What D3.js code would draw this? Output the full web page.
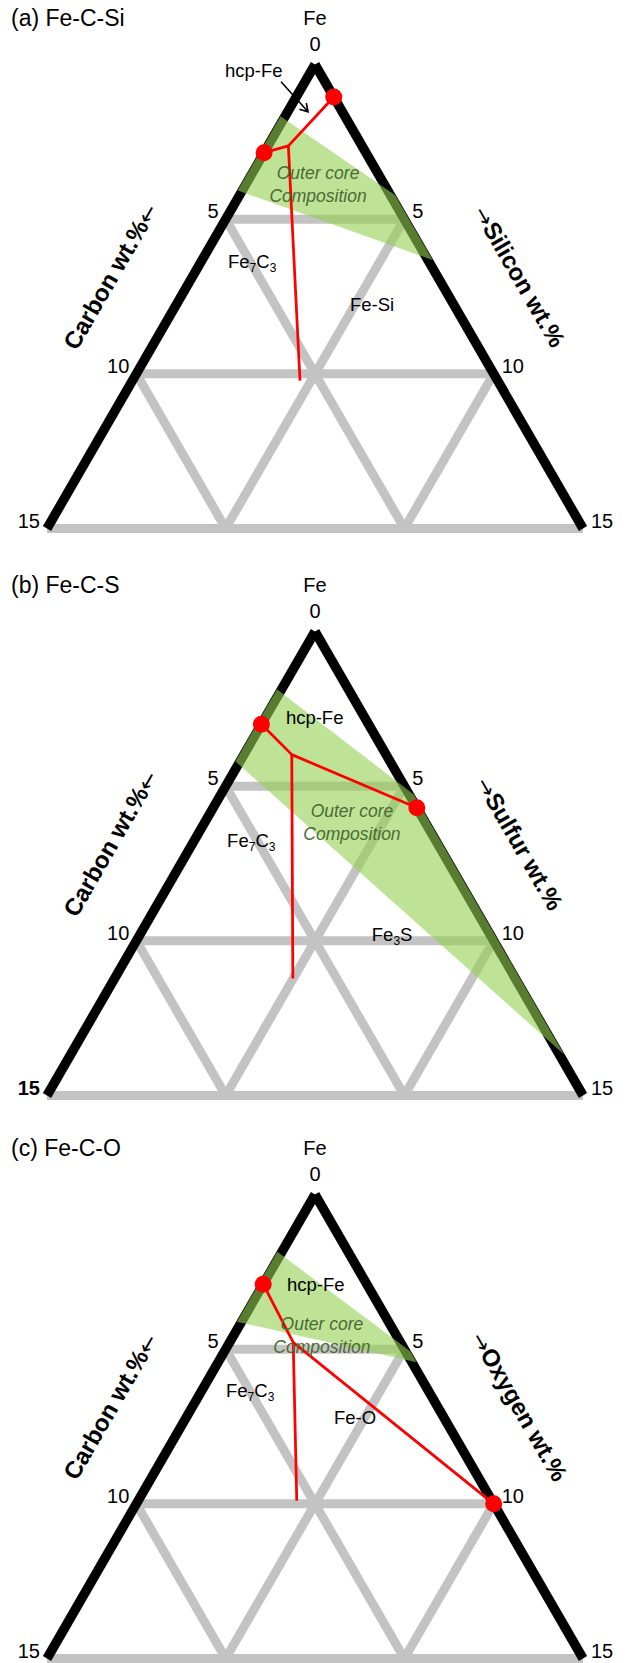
<!DOCTYPE html>
<html>
<head>
<meta charset="utf-8">
<style>
    body { margin: 0; background: #fff; }
    .chart text { font-family: "Liberation Sans", Arial, sans-serif; fill: #000; }
    .grid { stroke: #c3c3c3; stroke-width: 9; fill: none; }
    .edge { stroke: #000; stroke-width: 9.5; fill: none; }
    .core { fill: #92d050; fill-opacity: 0.6; }
    .liq { stroke: #ff0000; stroke-width: 2.75; fill: none; stroke-linejoin: round; }
    .dot { fill: #ff0000; }
    .chart text.core-label { font-style: italic; fill: #4b6b35; font-size: 17.5px; }
    .phase { font-size: 18.5px; }
    .tick { font-size: 20px; }
    .title { font-size: 23px; }
    .axis-title { font-size: 24px; font-weight: bold; }
    .chart tspan.arrow { font-family: "DejaVu Sans", sans-serif; font-weight: normal; font-size: 22px; }
</style>
</head>
<body>
<svg class="chart"></svg>
<script src="https://d3js.org/d3.v7.min.js"></script>
<script>
// every composition is [carbon wt.%, second element wt.%], Fe is the rest
var panelTitles = ['(a) Fe-C-Si', '(b) Fe-C-S', '(c) Fe-C-O'];
var secondElement = ['Silicon', 'Sulfur', 'Oxygen'];
var tickValues = [0, 5, 10, 15];
var gridLevels = [5, 10];

// outer core composition field
var outerCoreA = [[1.8, -0.13], [-0.13, 4.35], [-0.13, 6.45], [4.2, -0.13]];
var outerCoreB = [[2.0, -0.13], [-0.13, 5.4], [-0.13, 13.8], [4.33, -0.13]];
var outerCoreC = [[1.98, -0.13], [-0.13, 5.2], [-0.13, 5.55], [4.24, -0.13]];

// cotectic / boundary lines
var linesA = [[[2.85, 0], [2.06, 0.57], [0, 1.05]], [[2.06, 0.57], [5.53, 4.69]]];
var linesB = [[[3.0, 0], [2.64, 1.34], [0, 5.7]], [[2.64, 1.34], [6.23, 4.99]]];
var linesC = [[[2.9, 0], [3.0, 1.78], [0, 10]], [[3.0, 1.78], [5.46, 4.44]]];

// eutectic points on the binaries
var dotsA = [[2.85, 0], [0, 1.05]];
var dotsB = [[3.0, 0], [0, 5.7]];
var dotsC = [[2.9, 0], [0, 10]];

// phase field labels: text, sub-script pieces, anchor composition
var labelsA = [['Fe', '7', 'C', '3', [5.73, 0.86]], ['Fe-Si', '', '', '', [3.01, 4.97]]];
var labelsB = [['hcp-Fe', '', '', '', [2.31, 0.68]], ['Fe', '7', 'C', '3', [5.94, 1.02]], ['Fe', '3', 'S', '', [3.42, 6.6]]];
var labelsC = [['hcp-Fe', '', '', '', [2.35, 0.78]], ['Fe', '7', 'C', '3', [5.77, 0.79]], ['Fe-O', '', '', '', [3.18, 4.24]]];
var coreLabelAt = [[1.77, 1.94], [1.96, 4.03], [2.0, 2.39]];

// hcp-Fe callout in panel (a)
var hcpLabelA = [2.72, -2.32];
var hcpArrowA = [[1.23, -0.67], [0.96, 0.57]];

var panelTop = [0, 567, 1130];

var panels = panelTitles.map(function(t, i) {
    return {
        title: t, element: secondElement[i], top: panelTop[i],
        core: [outerCoreA, outerCoreB, outerCoreC][i],
        lines: [linesA, linesB, linesC][i],
        dots: [dotsA, dotsB, dotsC][i],
        labels: [labelsA, labelsB, labelsC][i],
        coreAt: coreLabelAt[i]
    };
});

var chart = d3.select('.chart')
    .attr('width', 628)
    .attr('height', 1663);

// ternary scales: x from (X - C), y from (C + X)
var xScale = d3.scaleLinear().domain([-15, 15]).range([47, 583]);
var yScale = d3.scaleLinear().domain([0, 15]).range([64.5, 528.5]);
function pt(c) { return [xScale(c[1] - c[0]), yScale(c[0] + c[1])]; }
var line = d3.line().x(function(c) { return pt(c)[0]; }).y(function(c) { return pt(c)[1]; });

var gs = chart.selectAll('g.panel').data(panels).enter()
    .append('g')
    .attr('class', 'panel')
    .attr('transform', function(d) { return 'translate(0,' + d.top + ')'; });

gs.each(function(d, i) {
    var g = d3.select(this);

    // grey grid
    var grid = [[[15, 0], [0, 15]]];
    gridLevels.forEach(function(l) {
        grid.push([[l, 0], [0, l]]);
        grid.push([[l, 0], [l, 15 - l]]);
        grid.push([[0, l], [15 - l, l]]);
    });
    g.selectAll('path.grid').data(grid).enter().append('path')
        .attr('class', 'grid').attr('d', line);

    // black edges
    g.selectAll('path.edge').data([[[0, 0], [15, 0]], [[0, 0], [0, 15]]]).enter().append('path')
        .attr('class', 'edge').attr('d', line);

    // outer core field
    g.append('path').attr('class', 'core').attr('d', line(d.core) + 'Z');

    // red lines and dots
    g.selectAll('path.liq').data(d.lines).enter().append('path')
        .attr('class', 'liq').attr('d', line);
    g.selectAll('circle.dot').data(d.dots).enter().append('circle')
        .attr('class', 'dot').attr('r', 8.5)
        .attr('cx', function(c) { return pt(c)[0]; })
        .attr('cy', function(c) { return pt(c)[1]; });

    // titles
    g.append('text').attr('class', 'title').attr('x', 11).attr('y', 26).text(d.title);
    var apex = pt([0, 0]);
    g.append('text').attr('class', 'tick').attr('x', apex[0]).attr('y', apex[1] - 39.5)
        .attr('text-anchor', 'middle').text('Fe');

    // tick labels
    tickValues.forEach(function(t) {
        if (t === 0) {
            g.append('text').attr('class', 'tick').attr('x', apex[0]).attr('y', apex[1] - 13.5)
                .attr('text-anchor', 'middle').text(t);
            return;
        }
        var l = pt([t, 0]), r = pt([0, t]);
        g.append('text').attr('class', 'tick').attr('x', l[0] - 7).attr('y', l[1] - 1)
            .attr('text-anchor', 'end')
            .style('font-weight', (i === 1 && t === 15) ? 'bold' : null)
            .text(t);
        g.append('text').attr('class', 'tick').attr('x', r[0] + 8).attr('y', r[1] - 1).text(t);
    });

    // axis titles
    var lc = pt([9.15, -2.3]);
    var lt = g.append('text').attr('class', 'axis-title')
        .attr('text-anchor', 'middle').attr('dy', '0.35em')
        .attr('transform', 'translate(' + lc[0] + ',' + lc[1] + ') rotate(-60)');
    lt.append('tspan').text('Carbon wt.%');
    lt.append('tspan').attr('class', 'arrow').text('\u2190');
    var rc = pt([-2.3, 9.15]);
    var rt = g.append('text').attr('class', 'axis-title')
        .attr('text-anchor', 'middle').attr('dy', '0.35em')
        .attr('transform', 'translate(' + rc[0] + ',' + rc[1] + ') rotate(60)');
    rt.append('tspan').attr('class', 'arrow').text('\u2192');
    rt.append('tspan').text(d.element + ' wt.%');

    // phase labels
    d.labels.forEach(function(lab) {
        var p = pt(lab[4]);
        var t = g.append('text').attr('class', 'phase').attr('x', p[0]).attr('y', p[1]);
        t.append('tspan').text(lab[0]);
        if (lab[1]) t.append('tspan').attr('dy', 4).style('font-size', '12px').text(lab[1]);
        if (lab[2]) t.append('tspan').attr('dy', lab[1] ? -4 : 0).text(lab[2]);
        if (lab[3]) t.append('tspan').attr('dy', 4).style('font-size', '12px').text(lab[3]);
    });

    // outer core label
    var cp = pt(d.coreAt);
    var ct = g.append('text').attr('class', 'core-label').attr('text-anchor', 'middle');
    ct.append('tspan').attr('x', cp[0]).attr('y', cp[1]).text('Outer core');
    ct.append('tspan').attr('x', cp[0]).attr('y', cp[1] + 23).text('Composition');

    if (i === 0) {
        var hp = pt(hcpLabelA);
        g.append('text').attr('class', 'phase').attr('x', hp[0]).attr('y', hp[1]).text('hcp-Fe');
        var a0 = pt(hcpArrowA[0]), a1 = pt(hcpArrowA[1]);
        var ang = Math.atan2(a1[1] - a0[1], a1[0] - a0[0]);
        var head = [ang + 2.6, ang - 2.6].map(function(b) {
            return [a1[0] + 9 * Math.cos(b), a1[1] + 9 * Math.sin(b)];
        });
        g.append('path')
            .attr('d', 'M' + a0 + 'L' + a1 + 'M' + head[0] + 'L' + a1 + 'L' + head[1])
            .attr('stroke', '#000').attr('stroke-width', 1.6).attr('fill', 'none');
    }
});
</script>
</body>
</html>
